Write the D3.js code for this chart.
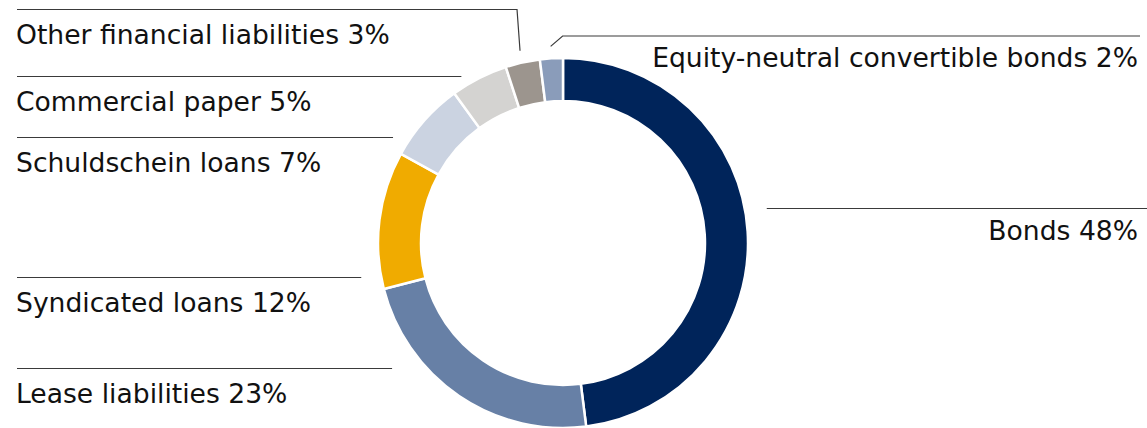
<!DOCTYPE html>
<html>
<head>
<meta charset="utf-8">
<script src="https://cdn.jsdelivr.net/npm/d3@7"></script>
<style>
  body { margin: 0; background: #fff; }
  svg { display: block; }
</style>
</head>
<body>
<div id="chart"></div>
<script>
// data, clockwise from 12 o'clock
const categories = ['Bonds', 'Lease liabilities', 'Syndicated loans', 'Schuldschein loans',
  'Commercial paper', 'Other financial liabilities', 'Equity-neutral convertible bonds'];
const shares = [48, 23, 12, 7, 5, 3, 2];
const colors = ['#00245a', '#6780a6', '#f0ab00', '#cbd3e1', '#d4d3d1', '#9c958e', '#8a9cba'];

// label layout (not data): side, y of the rule above the label, gap to ring / elbow offset
const labelLayout = [
  {side: 'right', lineY: 208.5, gap: 22, lineEnd: 1147},
  {side: 'left', lineY: 368.5, gap: 35},
  {side: 'left', lineY: 277.5, gap: 20},
  {side: 'left', lineY: 137.5, gap: 18},
  {side: 'left', lineY: 76.5, gap: 21},
  {side: 'left', lineY: 9.5, elbow: -3},
  {side: 'right', lineY: 36, elbow: 12, lineEnd: 1140}
];

const width = 1147;
const height = 428;
const cx = 563, cy = 243;
const outerR = 185, innerR = 142;
const fontSize = 26.6;

const svg = d3.select('#chart')
  .append('svg')
  .attr('width', width)
  .attr('height', height);

const pie = d3.pie().value(d => d.value).sort(null);
const arc = d3.arc().innerRadius(innerR).outerRadius(outerR);

const data = categories.map((c, i) => ({name: c, value: shares[i], color: colors[i], layout: labelLayout[i]}));
const arcs = pie(data);

const ring = svg.append('g').attr('transform', `translate(${cx},${cy})`);
ring.selectAll('path')
  .data(arcs)
  .join('path')
  .attr('d', arc)
  .attr('fill', d => d.data.color)
  .attr('stroke', '#fff')
  .attr('stroke-width', 2.5);

// leader lines + labels
const labels = svg.append('g');
arcs.forEach(d => {
  const L = d.data.layout;
  const mid = (d.startAngle + d.endAngle) / 2;
  let pts;
  if (L.elbow !== undefined) {
    const r = outerR + 12;
    const ax = cx + r * Math.sin(mid), ay = cy - r * Math.cos(mid);
    const ex = ax + L.elbow;
    pts = L.side === 'left'
      ? [[ax, ay], [ex, L.lineY], [17, L.lineY]]
      : [[ax, ay], [ex, L.lineY], [L.lineEnd, L.lineY]];
  } else {
    const dy = L.lineY - cy;
    const dx = Math.sqrt(Math.max(0, outerR * outerR - dy * dy)) + L.gap;
    pts = L.side === 'left'
      ? [[17, L.lineY], [cx - dx, L.lineY]]
      : [[cx + dx, L.lineY], [L.lineEnd, L.lineY]];
  }
  labels.append('path')
    .attr('d', d3.line()(pts))
    .attr('fill', 'none')
    .attr('stroke', '#3a3a3a')
    .attr('stroke-width', 1.2);

  labels.append('text')
    .attr('x', L.side === 'left' ? 16 : 1138)
    .attr('y', L.lineY + (L.side === 'left' ? 34.5 : 31))
    .attr('text-anchor', L.side === 'left' ? 'start' : 'end')
    .attr('font-family', '"DejaVu Sans", Verdana, sans-serif')
    .attr('font-size', fontSize)
    .attr('fill', '#111')
    .text(`${d.data.name} ${d.data.value}%`);
});
</script>
</body>
</html>
